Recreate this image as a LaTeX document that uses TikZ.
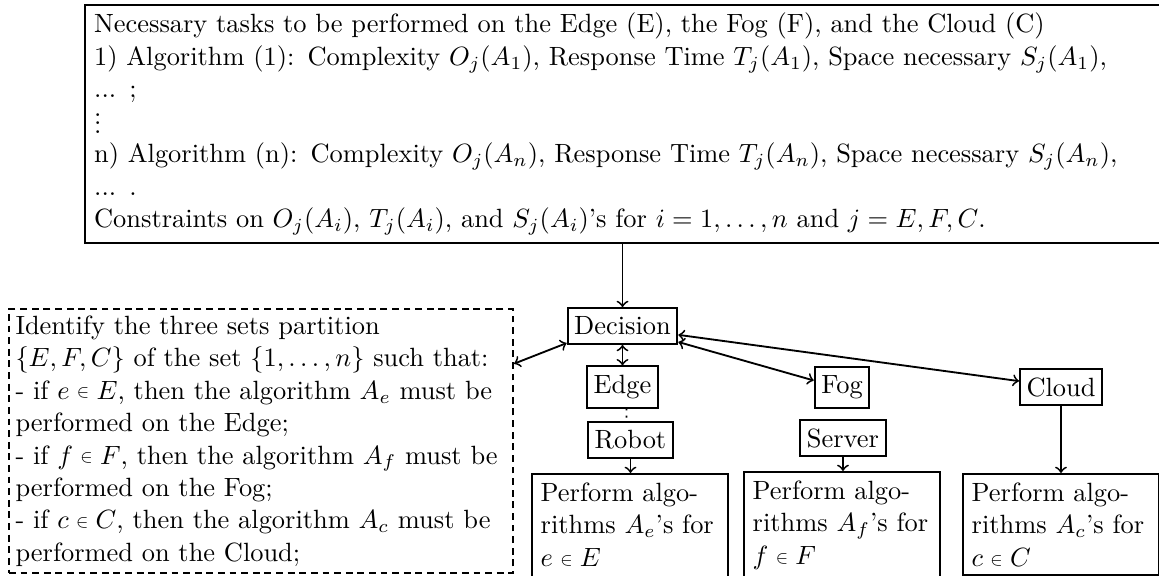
\documentclass[tikz,border=0pt]{standalone}
\usepackage{amsmath,amssymb,graphicx}
\usetikzlibrary{calc}

\newcommand{\smallin}{\mathrel{\raisebox{0.1ex}{\scalebox{0.7}{$\in$}}}}
\newcommand{\dotcol}{\leavevmode\raisebox{-1.2pt}{\vbox{\baselineskip3.2pt\lineskiplimit0pt\hbox{.}\hbox{.}\hbox{.}}}}

\begin{document}
\begin{tikzpicture}[x=0.3788pt,y=-0.3788pt,line width=0.7pt,
    every node/.style={font=\fontsize{10pt}{12.3pt}\selectfont},
    blk/.style={draw,inner xsep=2.5pt,inner ysep=3.33pt},
    perf/.style={draw,anchor=north west,align=left,text width=67.5pt,inner sep=3.33pt},
    plan/.style={draw,anchor=north west,align=left}]
\useasboundingbox (0,0) rectangle (1159,575);

\node[plan,text width=401pt,minimum height=89.8pt,inner xsep=3.5pt,inner ysep=3pt] (tasks) at (84,4) {Necessary tasks to be performed on the Edge (E), the Fog (F), and the Cloud (C)\\
1) Algorithm (1): Complexity $O_j(A_1)$, Response Time $T_j(A_1)$, Space necessary $S_j(A_1)$,\\
... ;\\
\dotcol\\
n) Algorithm (n): Complexity $O_j(A_n)$, Response Time $T_j(A_n)$, Space necessary $S_j(A_n)$,\\
... .\\
Constraints on $O_j(A_i)$, $T_j(A_i)$, and $S_j(A_i)$'s for $i = 1,\ldots,n$ and $j = E,F,C$.};

\node[plan,dash pattern=on 2.6pt off 1.8pt,text width=186pt,minimum height=100pt,inner xsep=2.5pt,inner ysep=2.5pt] (rules) at (8,308) {Identify the three sets partition\\
$\{E,F,C\}$ of the set $\{1,\ldots,n\}$ such that:\\
- if $e\smallin E$, then the algorithm $A_e$ must be\\
performed on the Edge;\\
- if $f\smallin F$, then the algorithm $A_f$ must be\\
performed on the Fog;\\
- if $c\smallin C$, then the algorithm $A_c$ must be\\
performed on the Cloud;};

\node[blk] (decision) at (622.5,326) {Decision};
\node[blk] (edge) at (622.5,387) {Edge};
\node[blk] (robot) at (630.5,440) {Robot};
\node[blk] (fog) at (842,387.5) {Fog};
\node[blk] (server) at (843,438) {Server};
\node[blk] (cloud) at (1061,387) {Cloud};

\node[perf,text depth=29pt] (perfE) at (531,473) {Perform algo-\\rithms $A_e$'s for\\$e\smallin E$};
\node[perf,text depth=29pt] (perfF) at (743,471) {Perform algo-\\rithms $A_f$'s for\\$f\smallin F$};
\node[perf] (perfC) at (962,473) {Perform algo-\\rithms $A_c$'s for\\$c\smallin C$};

\draw[->] (tasks.south -| decision) -- (decision);
\draw[<->] (decision) -- (edge);
\draw[dotted] ([xshift=1.5pt]edge.south) -- ([xshift=-1.5pt]robot.north);
\draw[->] (robot) -- (robot |- perfE.north);
\draw[->] (server) -- (server |- perfF.north);
\draw[->] (cloud) -- (cloud |- perfC.north);
\draw[<->] (decision.-16) -- (fog.166);
\draw[<->] (decision.-9) -- (cloud.172);
\draw[<->] (rules.17) -- (decision.197);
\end{tikzpicture}
\end{document}
